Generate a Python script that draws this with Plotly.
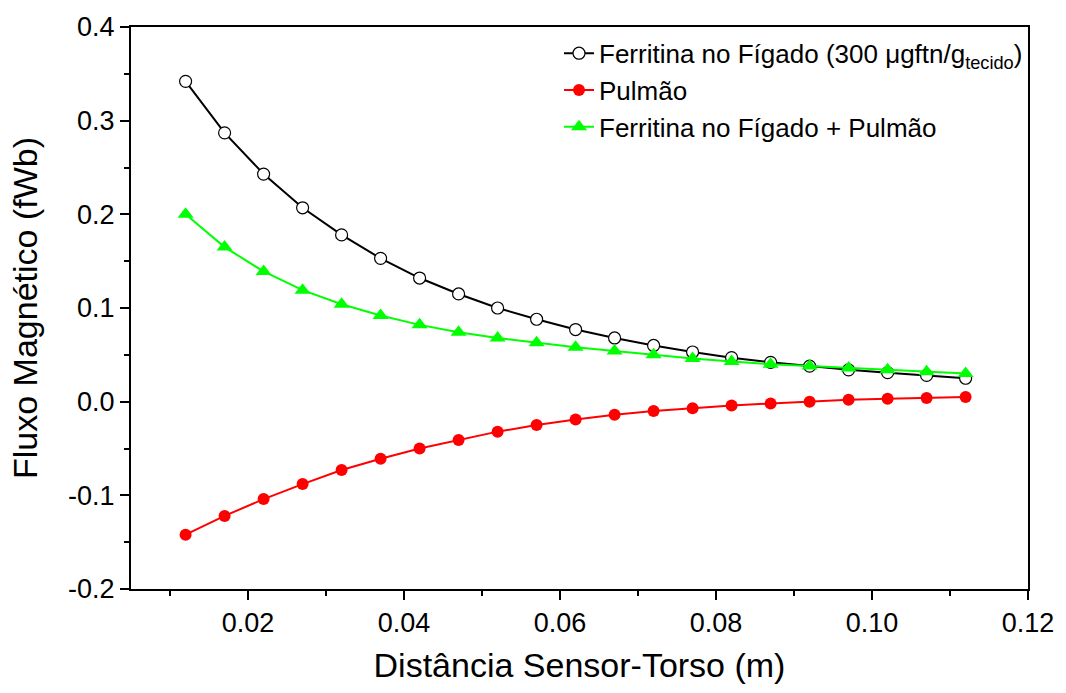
import plotly.graph_objects as go

x = [0.012, 0.017, 0.022, 0.027, 0.032, 0.037, 0.042, 0.047, 0.052, 0.057, 0.062,
     0.067, 0.072, 0.077, 0.082, 0.087, 0.092, 0.097, 0.102, 0.107, 0.112]
figado = [0.342, 0.287, 0.243, 0.207, 0.178, 0.153, 0.132, 0.115, 0.100, 0.088, 0.077,
          0.068, 0.060, 0.053, 0.047, 0.042, 0.038, 0.034, 0.031, 0.028, 0.025]
pulmao = [-0.142, -0.122, -0.104, -0.088, -0.073, -0.061, -0.050, -0.041, -0.032, -0.025, -0.019,
          -0.014, -0.010, -0.007, -0.004, -0.002, 0.000, 0.002, 0.003, 0.004, 0.005]
soma = [0.200, 0.165, 0.139, 0.119, 0.104, 0.092, 0.082, 0.074, 0.068, 0.063, 0.058,
        0.054, 0.050, 0.046, 0.043, 0.040, 0.038, 0.036, 0.034, 0.032, 0.030]

names = ["Ferritina no Fígado (300 μgftn/g<sub>tecido</sub>)", "Pulmão", "Ferritina no Fígado + Pulmão"]
xticks = [0.02, 0.04, 0.06, 0.08, 0.10, 0.12]
xticklabels = ["0.02", "0.04", "0.06", "0.08", "0.10", "0.12"]
yticks = [-0.2, -0.1, 0.0, 0.1, 0.2, 0.3, 0.4]
yticklabels = ["-0.2", "-0.1", "0.0", "0.1", "0.2", "0.3", "0.4"]

fig = go.Figure()
fig.add_trace(go.Scatter(x=x, y=figado, mode="lines+markers", name=names[0],
                         line=dict(color="black", width=2),
                         marker=dict(symbol="circle", size=12, color="white",
                                     line=dict(color="black", width=1.2))))
fig.add_trace(go.Scatter(x=x, y=pulmao, mode="lines+markers", name=names[1],
                         line=dict(color="#ff0000", width=2),
                         marker=dict(symbol="circle", size=12, color="#ff0000")))
fig.add_trace(go.Scatter(x=x, y=soma, mode="lines+markers", name=names[2],
                         line=dict(color="#00ff00", width=2),
                         marker=dict(symbol="triangle-up", size=14, color="#00ff00")))

font = "Liberation Sans, Arial, sans-serif"
fig.update_layout(
    width=1066, height=693,
    margin=dict(l=131, r=36, t=23, b=104),
    paper_bgcolor="white", plot_bgcolor="white",
    font=dict(family=font, size=26, color="black"),
    showlegend=True,
    legend=dict(x=1.0, y=0.995, xanchor="right", yanchor="top",
                bgcolor="rgba(0,0,0,0)", font=dict(family=font, size=26), tracegroupgap=0),
    xaxis=dict(range=[0.005, 0.12], tickvals=xticks, ticktext=xticklabels,
               ticks="outside", ticklen=9, tickwidth=1.5, tickcolor="black",
               minor=dict(ticks="outside", ticklen=5, tickwidth=1.5, tickcolor="black",
                          tickvals=[0.01, 0.03, 0.05, 0.07, 0.09, 0.11]),
               showline=True, linecolor="black", linewidth=2, mirror=True,
               showgrid=False, zeroline=False,
               title=dict(text="Distância Sensor-Torso (m)", font=dict(family=font, size=34), standoff=16),
               tickfont=dict(family=font, size=27)),
    yaxis=dict(range=[-0.2, 0.4], tickvals=yticks, ticktext=yticklabels,
               ticks="outside", ticklen=9, tickwidth=1.5, tickcolor="black",
               minor=dict(ticks="outside", ticklen=5, tickwidth=1.5, tickcolor="black",
                          tickvals=[-0.15, -0.05, 0.05, 0.15, 0.25, 0.35]),
               showline=True, linecolor="black", linewidth=2, mirror=True,
               showgrid=False, zeroline=False,
               title=dict(text="Fluxo Magnético (fWb)", font=dict(family=font, size=34), standoff=20),
               tickfont=dict(family=font, size=27)),
)
fig.write_html("out.html")
